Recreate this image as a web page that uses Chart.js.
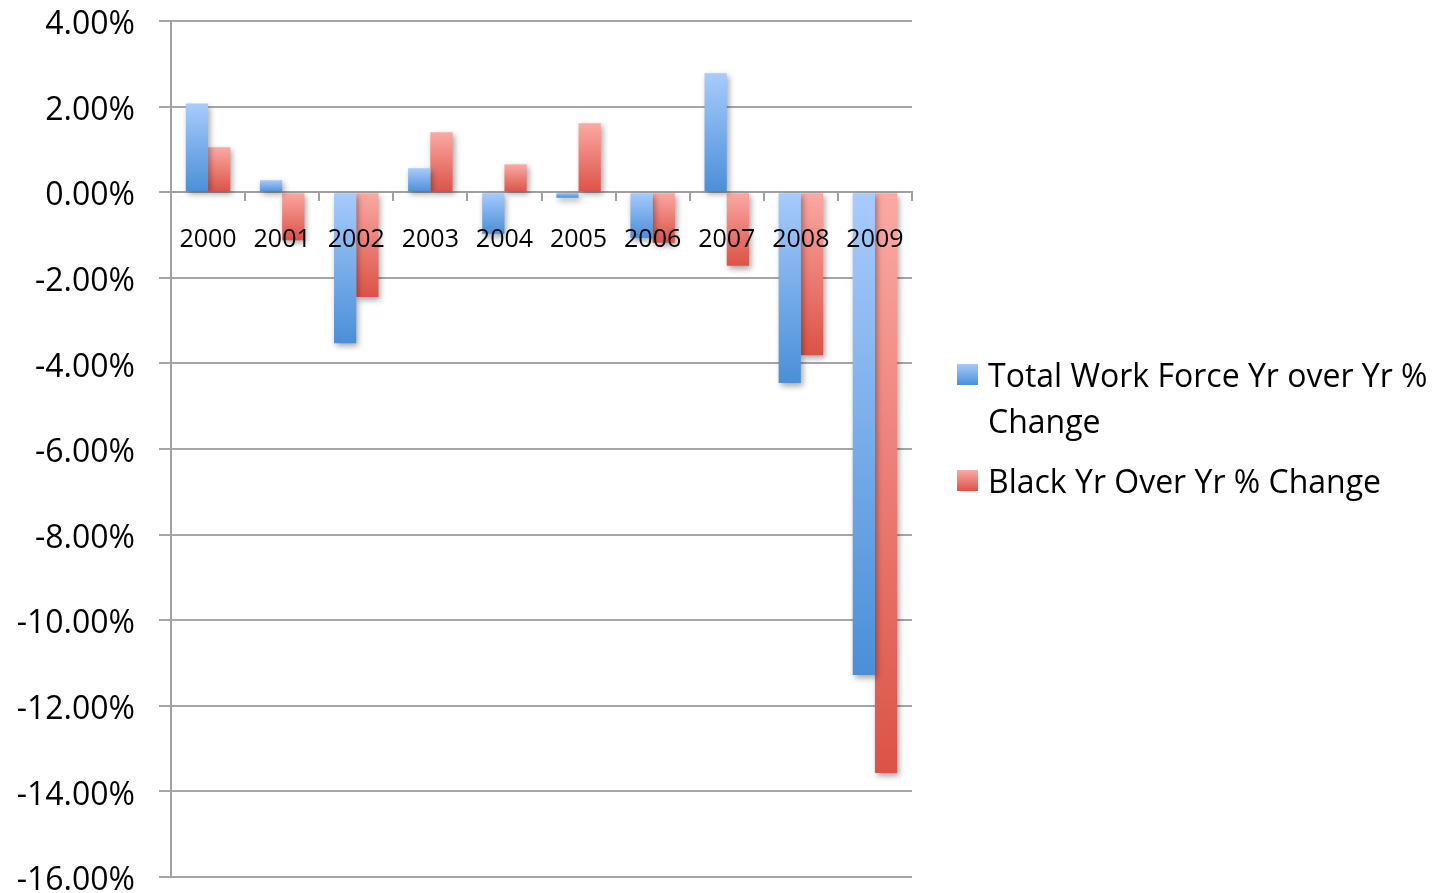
<!DOCTYPE html>
<html>
<head>
<meta charset="utf-8">
<script src="https://cdn.jsdelivr.net/npm/chart.js@4.4.0/dist/chart.umd.min.js"></script>
<style>
  html, body { margin: 0; padding: 0; background: #fff; }
  #wrap { position: relative; width: 1439px; height: 893px; }
  #legend { position: absolute; left: 957px; top: 352px; font-family: "Open Sans", Lato, sans-serif; font-size: 32px; color: #000; }
  .item { position: relative; padding-left: 31px; line-height: 46px; margin-bottom: 14px; }
  .sw { position: absolute; left: 0; top: 12px; width: 21px; height: 21px; }
</style>
</head>
<body>
<div id="wrap">
  <canvas id="c"></canvas>
  <div id="legend"></div>
</div>
<script>
const categories = ["2000","2001","2002","2003","2004","2005","2006","2007","2008","2009"];
const seriesNames = ["Total Work Force Yr over Yr % Change", "Black Yr Over Yr % Change"];
const totalWorkForce = [2.07, 0.28, -3.53, 0.56, -0.97, -0.13, -1.07, 2.78, -4.46, -11.28];
const blackChange = [1.05, -1.12, -2.45, 1.40, 0.65, 1.61, -1.18, -1.72, -3.81, -13.57];
const yTickMin = -16, yTickMax = 4, yTickStep = 2;

const palettes = [
  { light: "#a8cbfc", dark: "#4a8fd8" },
  { light: "#fba9a4", dark: "#dc5246" }
];

function gradFill(idx) {
  return function(ctx) {
    const pal = palettes[idx];
    if (ctx.type !== 'data') return pal.dark;
    const chart = ctx.chart;
    const y = chart.scales && chart.scales.y;
    if (!y || !chart.chartArea) return pal.dark;
    const p0 = y.getPixelForValue(0);
    const p1 = y.getPixelForValue(ctx.raw);
    const top = Math.min(p0, p1), bot = Math.max(p0, p1);
    if (!isFinite(top) || bot - top < 1) return pal.dark;
    const g = chart.ctx.createLinearGradient(0, top, 0, bot);
    g.addColorStop(0, pal.light);
    g.addColorStop(1, pal.dark);
    return g;
  };
}

const shadowPlugin = {
  id: 'barShadow',
  beforeDatasetsDraw(chart) {
    const c = chart.ctx;
    c.save();
    c.shadowColor = 'rgba(0,0,0,0.35)';
    c.shadowBlur = 6;
    c.shadowOffsetX = 2;
    c.shadowOffsetY = 3;
  },
  afterDatasetsDraw(chart) {
    chart.ctx.restore();
  }
};

const FONT = "'Open Sans', Lato, sans-serif";

new Chart(document.getElementById('c'), {
  type: 'bar',
  data: {
    labels: categories,
    datasets: [
      { label: seriesNames[0], data: totalWorkForce, backgroundColor: gradFill(0), borderWidth: 0 },
      { label: seriesNames[1], data: blackChange, backgroundColor: gradFill(1), borderWidth: 0 }
    ]
  },
  plugins: [shadowPlugin],
  options: {
    responsive: true,
    maintainAspectRatio: false,
    animation: false,
    layout: { padding: { left: 0, right: 527, top: 21, bottom: 16 } },
    datasets: { bar: { categoryPercentage: 0.6, barPercentage: 1.0 } },
    plugins: { legend: { display: false }, tooltip: { enabled: false } },
    scales: {
      x: {
        position: { y: 0 },
        offset: true,
        afterFit(s) { s.height = 0; },
        grid: { display: true, drawOnChartArea: false, drawTicks: true, tickLength: 8, color: '#a0a0a0', lineWidth: 2, offset: true },
        border: { display: true, color: '#a0a0a0', width: 2 },
        ticks: { color: '#000', font: { family: FONT, size: 25 }, padding: 25, maxRotation: 0, autoSkip: false, z: 2 }
      },
      y: {
        min: yTickMin, max: yTickMax,
        afterFit(s) { s.width = 171; s.paddingTop = 0; s.paddingBottom = 0; },
        grid: { color: '#a6a6a6', lineWidth: 2, tickLength: 12 },
        border: { display: true, color: '#a0a0a0', width: 2 },
        ticks: {
          stepSize: yTickStep,
          color: '#000',
          padding: 24,
          labelOffset: 4,
          font: { family: FONT, size: 32 },
          callback: v => v.toFixed(2) + '%'
        }
      }
    }
  }
});

const legend = document.getElementById('legend');
const legendText = [["Total Work Force Yr over Yr %", "Change"], ["Black Yr Over Yr % Change"]];
legendText.forEach((lines, i) => {
  const it = document.createElement('div');
  it.className = 'item';
  const sw = document.createElement('span');
  sw.className = 'sw';
  sw.style.background = 'linear-gradient(' + palettes[i].light + ',' + palettes[i].dark + ')';
  it.appendChild(sw);
  lines.forEach((t, j) => {
    const d = document.createElement('div');
    d.textContent = t;
    it.appendChild(d);
  });
  legend.appendChild(it);
});
</script>
</body>
</html>
